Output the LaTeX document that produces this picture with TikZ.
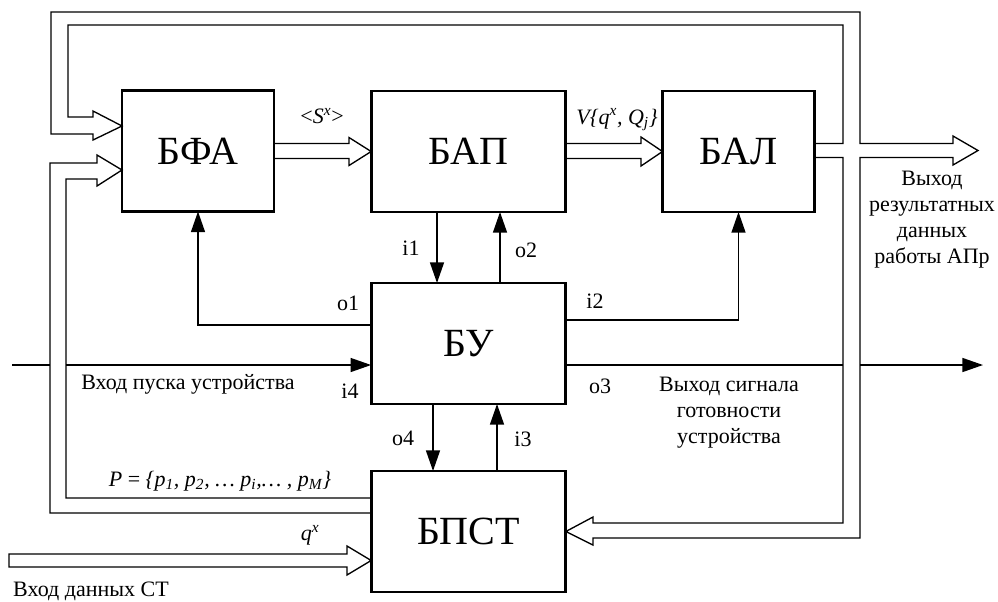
\documentclass[tikz,border=0pt]{standalone}
\usepackage{fontspec}
\setmainfont{Liberation Serif}
\usetikzlibrary{arrows.meta,calc}
\begin{document}
\begin{tikzpicture}[x=0.75pt,y=-0.75pt,
  blk/.style={draw,line width=2.2pt,minimum height=90.75pt,inner sep=0pt,outer sep=0pt,font=\fontsize{30}{35}\selectfont},
  wideblk/.style={blk,minimum width=146pt},
  narrowblk/.style={blk,minimum width=114pt},
  sig/.style={line width=1.1pt,-{Triangle[length=15.5pt,width=10.5pt]}},
  ln/.style={line width=1.1pt},
  bus/.style={line width=1pt,line join=miter},
  lbl/.style={font=\fontsize{16.5}{19.5}\selectfont,inner sep=0pt}]
\useasboundingbox (0,0) rectangle (998,601);

% blocks
\node[narrowblk] (bfa) at (198,151) {БФА};
\node[wideblk] (bap) at (468.5,151.5) {БАП};
\node[narrowblk] (bal) at (738.5,151.5) {БАЛ};
\node[wideblk] (bu) at (468.5,343.5) {БУ};
\node[wideblk] (bpst) at (468.5,531.5) {БПСТ};

% helper coordinates
\coordinate (xi1) at (437,0);
\coordinate (xo2) at (500,0);
\coordinate (xo4) at (433,0);
\coordinate (xi3) at (497,0);
\coordinate (yo1) at (0,325);
\coordinate (yi2) at (0,320);
\coordinate (in4) at (12,365);
\coordinate (in4a) at (50,365);
\coordinate (in4b) at (66,365);
\coordinate (o3a) at (843,365);
\coordinate (o3b) at (860,365);
\coordinate (o3end) at (983,365);
\coordinate (outtip) at (978,150.5);
\coordinate (qend) at (9,560.5);

% control signals
\draw[sig] (bap.south -| xi1) -- (bu.north -| xi1);
\draw[sig] (bu.north -| xo2) -- (bap.south -| xo2);
\draw[sig] (bu.south -| xo4) -- (bpst.north -| xo4);
\draw[sig] (bpst.north -| xi3) -- (bu.south -| xi3);
\draw[sig] (bu.west |- yo1) -| (bfa.south);
\draw[sig] (bu.east |- yi2) -| (bal.south);
\draw[ln] (in4) -- (in4a);
\draw[sig] (in4b) -- (bu.west |- in4b);
\draw[ln] (bu.east |- o3a) -- (o3a);
\draw[sig] (o3b) -- (o3end);

% wide (bus) arrows
\draw[bus] ($(bfa.east)+(0,-7.5)$) -- (349,143.5) -- (349,137.5) -- (bap.west)
  -- (349,165.5) -- (349,158.5) -- ($(bfa.east)+(0,7.5)$);
\draw[bus] ($(bap.east)+(0,-8)$) -- (641,143.5) -- (641,137) -- (bal.west)
  -- (641,166) -- (641,158.5) -- ($(bap.east)+(0,7)$);
\draw[bus] ($(bal.east)+(0,-8)$) -- (843,143.5) -- (843,25) -- (68,25) -- (68,117)
  -- (93,117) -- (93,111) -- ($(bfa.west)+(0,-25)$) -- (93,140) -- (93,134)
  -- (51,134) -- (51,12) -- (860,12) -- (860,143.5) -- (953,143.5) -- (953,136)
  -- (outtip) -- (953,165) -- (953,157.5) -- (860,157.5) -- (860,538)
  -- (593,538) -- (593,545) -- (bpst.east) -- (593,517) -- (593,523)
  -- (843,523) -- (843,157.5) -- ($(bal.east)+(0,6)$);
\draw[bus] ($(bpst.west)+(0,-33.5)$) -- (66,498) -- (66,179) -- (97,179) -- (97,186)
  -- ($(bfa.west)+(0,19)$) -- (97,155) -- (97,163) -- (50,163) -- (50,513)
  -- ($(bpst.west)+(0,-18.5)$);
\draw[bus] ($(bpst.west)+(0,29)$) -- (347,546) -- (347,554) -- (qend |- 0,554)
  -- (qend |- 0,567) -- (347,567) -- (347,575) -- cycle;

% labels
\node[lbl] (lsx) at (322,116) {<\textit{S}\textsuperscript{\textit{x}}>};
\node[lbl] (lv) at (617,120) {\textit{V\{q\textsuperscript{x}, Q\textsubscript{j}\}}};
\node[lbl] (li1) at (411,248) {i1};
\node[lbl] (lo2) at (526,250) {o2};
\node[lbl] (lo1) at (348,303) {o1};
\node[lbl] (li2) at (595,301) {i2};
\node[lbl] (li4) at (350,391) {i4};
\node[lbl] (lo3) at (600,386) {o3};
\node[lbl] (lo4) at (403,438) {o4};
\node[lbl] (li3) at (523,439) {i3};
\node[lbl] (lstart) at (188,384) {Вход пуска устройства};
\node[lbl,align=center] (lready) at (729,413) {Выход сигнала\\готовности\\устройства};
\node[lbl,align=center] (lout) at (932,220) {Выход\\результатных\\данных\\работы АПр};
\node[lbl] (lp) at (220,481) {\textit{P} = \textit{\{p\textsubscript{1}, p\textsubscript{2}, … p\textsubscript{i},… , p\textsubscript{M}\}}};
\node[lbl] (lq) at (310,535) {\textit{q\textsuperscript{x}}};
\node[lbl] (lin) at (91,591) {Вход данных СТ};
\end{tikzpicture}
\end{document}
